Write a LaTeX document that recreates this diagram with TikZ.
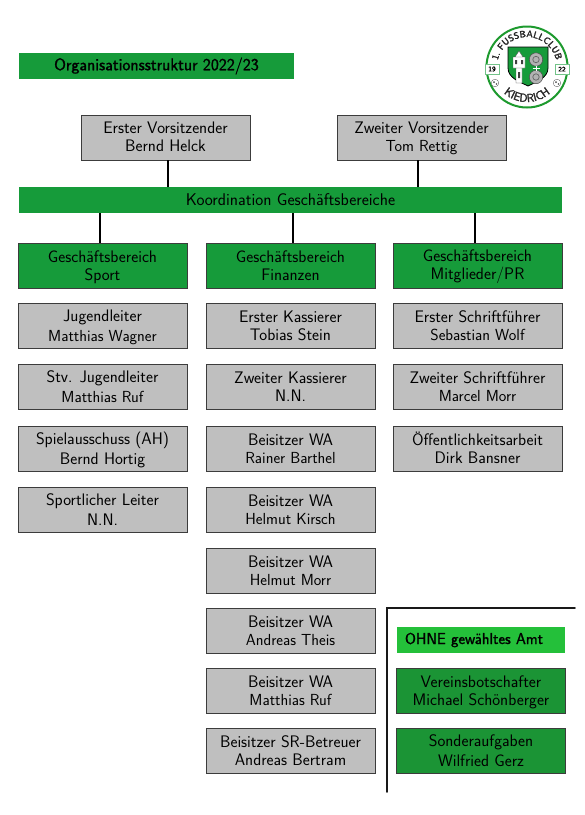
\documentclass[tikz,border=0pt]{standalone}
\usepackage{fontspec}
\usetikzlibrary{decorations.text}
\setmainfont{Latin Modern Sans}
\newfontfamily\fakeb[FakeBold=1.2]{Latin Modern Sans}
\newfontfamily\fakebb[FakeBold=2]{Latin Modern Sans}
\definecolor{gbg}{RGB}{22,155,58}
\definecolor{lbg}{RGB}{36,192,58}
\definecolor{dbg}{RGB}{27,148,53}
\definecolor{gry}{RGB}{191,191,191}
\definecolor{edge}{RGB}{60,60,60}
\newcommand{\two}[2]{\rule[-3pt]{0pt}{18pt}#1\\\rule[-3pt]{0pt}{18pt}#2}
\newcommand{\twoup}[2]{\rule[-4pt]{0pt}{18pt}#1\\\rule[-4pt]{0pt}{18pt}#2}
\newcommand{\sm}{\fontsize{16}{18}\selectfont}
\tikzset{
 x=1pt,y=-1pt,
 base/.style={inner sep=0pt,align=center,font=\fontsize{16.7}{18}\selectfont,text=black,minimum width=169pt,minimum height=45pt,line width=.9pt,draw=edge},
 person/.style={base,fill=gry},
 area/.style={base,fill=gbg},
 other/.style={base,fill=dbg},
 banner/.style={inner sep=0pt,fill=gbg,font=\fontsize{17}{18}\selectfont,text=black},
 conn/.style={line width=1.3pt,black},
 logotext/.style={decorate,decoration={text along path,text align=center,text={#1}}}
}
\begin{document}
\begin{tikzpicture}
\useasboundingbox (0,0) rectangle (585,815);
\fill[white] (0,0) rectangle (585,815);
\node[banner,minimum width=275pt,minimum height=26pt,font=\fontsize{17}{18}\fakeb] (title) at (156.5,66) {Organisationsstruktur 2022/23};
\node[person] (v1) at (165.5,137.5) {\twoup{Erster Vorsitzender}{Bernd Helck}};
\node[person] (v2) at (421.5,137.5) {\twoup{Zweiter Vorsitzender}{\sm Tom Rettig}};
\node[banner,minimum width=543pt,minimum height=26pt] (k) at (290.5,200) {Koordination Geschäftsbereiche};
\node[area] (g1) at (102.5,265.5) {\two{Geschäftsbereich}{Sport}};
\node[area] (g2) at (290.5,265.5) {\two{Geschäftsbereich}{Finanzen}};
\node[area] (g3) at (477.5,265.5) {\two{Geschäftsbereich}{Mitglieder/PR}};
\draw[conn] (v1.south -| 168,0) -- (k.north -| 168,0);
\draw[conn] (v2.south -| 418,0) -- (k.north -| 418,0);
\draw[conn] (k.south -| 100,0) -- (g1.north -| 100,0);
\draw[conn] (k.south -| 293,0) -- (g2.north -| 293,0);
\draw[conn] (k.south -| 475,0) -- (g3.north -| 475,0);
\node[person] (a1) at (102.5,325.5) {\two{Jugendleiter}{\sm Matthias Wagner}};
\node[person] (a2) at (102.5,386.5) {\two{Stv. Jugendleiter}{\sm Matthias Ruf}};
\node[person] (a3) at (102.5,448.5) {\two{Spielausschuss (AH)}{Bernd Hortig}};
\node[person] (a4) at (102.5,509.5) {\two{Sportlicher Leiter}{N.N.}};
\node[person] (b1) at (290.5,325.5) {\two{Erster Kassierer}{Tobias Stein}};
\node[person] (b2) at (290.5,386.5) {\two{Zweiter Kassierer}{N.N.}};
\node[person] (b3) at (290.5,448.5) {\two{Beisitzer WA}{\sm Rainer Barthel}};
\node[person] (b4) at (290.5,509.5) {\two{Beisitzer WA}{\sm Helmut Kirsch}};
\node[person] (b5) at (290.5,570.5) {\two{Beisitzer WA}{\sm Helmut Morr}};
\node[person] (b6) at (290.5,630.5) {\two{Beisitzer WA}{\sm Andreas Theis}};
\node[person] (b7) at (290.5,690.5) {\two{Beisitzer WA}{\sm Matthias Ruf}};
\node[person] (b8) at (290.5,750.5) {\two{Beisitzer SR-Betreuer}{Andreas Bertram}};
\node[person] (c1) at (477.5,325.5) {\two{Erster Schriftführer}{\sm Sebastian Wolf}};
\node[person] (c2) at (477.5,386.5) {\two{Zweiter Schriftführer}{\sm Marcel Morr}};
\node[person] (c3) at (477.5,448.5) {\two{Öffentlichkeitsarbeit}{Dirk Bansner}};
\draw[line width=1.6pt,black!90,line cap=round] (387,792) -- (387,608) -- (575,608);
\node[banner,fill=lbg,minimum width=168pt,minimum height=26pt,text width=152pt,align=left,font=\fontsize{15.8}{18}\fakeb] (o) at (481,640) {OHNE gewähltes Amt};
\node[other] (d1) at (481,690.5) {\two{Vereinsbotschafter}{Michael Schönberger}};
\node[other] (d2) at (481,750.5) {\two{Sonderaufgaben}{Wilfried Gerz}};
% logo
\begin{scope}
\fill[white] (527,67) circle (42);
\draw[lbg!80!black,line width=2pt] (527,67) circle (40.5);
\draw[gbg!60,line width=.5pt,fill=white] (485,64) rectangle (499,74) (555,64) rectangle (569,74);
\path[logotext={|\fontsize{9.3}{10}\fakebb\color{black!85}|1. FUSSBALLCLUB}] (498,74.8) arc[start angle=165,end angle=375,radius=30];
\path[logotext={|\fontsize{11.5}{12}\fakebb\color{black!85}|KIEDRICH}] (495.6,82.3) arc[start angle=154,end angle=26,radius=35];
\node[font=\fontsize{7}{7}\fakeb,inner sep=0pt] (y1) at (492,69) {19};
\node[font=\fontsize{7}{7}\fakeb,inner sep=0pt] (y2) at (562,69) {22};
\def\shieldpath{(508,47) -- (548,47) -- (548,68) .. controls (548,78) and (536,82) .. (528,86) .. controls (520,82) and (508,78) .. (508,68) -- cycle}
\fill[gbg] \shieldpath;
\draw[black,line width=.8pt] \shieldpath;
\filldraw[fill=white,draw=black!70,line width=.4pt] (515,57) -- (519,51) -- (523,57) -- cycle (513,57) rectangle (525,68) (516,68) rectangle (522,83);
\fill[black!75] (518,72) rectangle (520,78) (515,60) rectangle (517,64) (521,60) rectangle (523,64);
\fill[gray!60,draw=black!70,line width=.5pt] (536,59.5) circle (6.7) (536,77) circle (6.7);
\draw[black!60,line width=.7pt] (536,59.5) circle (3.2) (536,77) circle (3.2);
\draw[white,line width=.8pt] (536,66) -- (536,71) (532.5,68.3) -- (539.5,68.3);
\filldraw[fill=white,draw=black!70,line width=.3pt] (495,83) circle (3.8) (557,83) circle (3.8);
\fill[black!70] (494,82) circle (1) (496.5,84) circle (.8) (556,82) circle (1) (558.5,84) circle (.8);
\end{scope}
\end{tikzpicture}
\end{document}
